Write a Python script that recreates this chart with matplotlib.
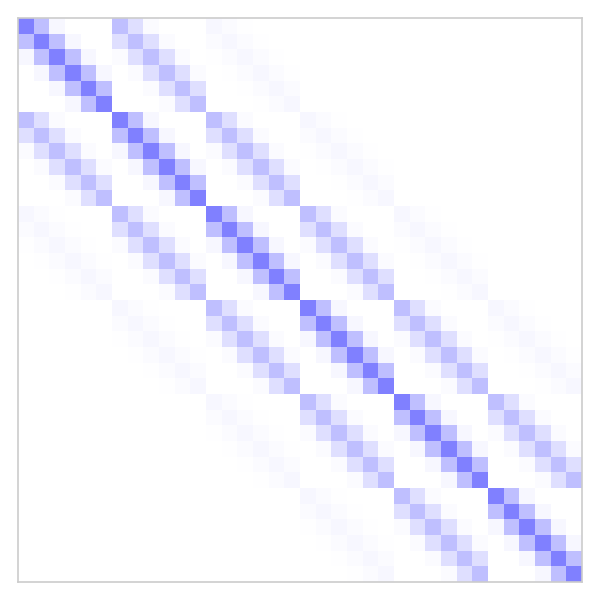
import numpy as np
import matplotlib
matplotlib.use("Agg")
import matplotlib.pyplot as plt
from matplotlib.colors import LinearSegmentedColormap

# --- DATA ---
# 6x6 grid of points -> 36x36 weight matrix
GRID_SIZE = 6
# weight by offset along one grid axis (read from the cell shades)
AXIS_WEIGHTS = [1.0, 0.5, 0.0625, 0.0, 0.0, 0.0]
# ------------

idx = np.arange(GRID_SIZE)
block = np.array(AXIS_WEIGHTS)[np.abs(idx[:, None] - idx[None, :])]
matrix = np.kron(block, block)

cmap = LinearSegmentedColormap.from_list("wb", ["#ffffff", "#8080ff"])

fig = plt.figure(figsize=(6, 6), dpi=100)
ax = fig.add_axes([0.03, 0.03, 0.94, 0.94])
ax.imshow(matrix, cmap=cmap, vmin=0, vmax=1, interpolation="nearest", aspect="auto")
ax.set_xticks([])
ax.set_yticks([])
for s in ax.spines.values():
    s.set_color("#cccccc")
    s.set_linewidth(1.2)

fig.savefig("out.png", dpi=100)
plt.close(fig)
